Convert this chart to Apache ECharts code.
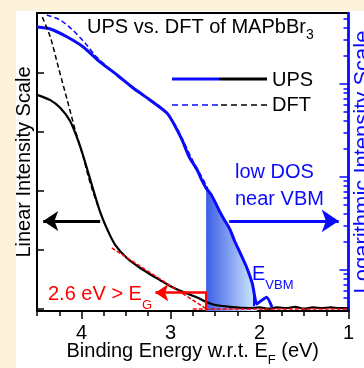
<!DOCTYPE html>
<html>
<head>
<meta charset="utf-8">
<script src="https://cdn.jsdelivr.net/npm/echarts@6/dist/echarts.min.js"></script>
<style>
html,body{margin:0;padding:0;background:#fdf3dc;}
#chart{width:364px;height:368px;}
</style>
</head>
<body>
<div id="chart"></div>
<script>
// values, binding energy in eV
var upsLinE = [4.50,4.35,4.24,4.13,4.04,3.96,3.88,3.79,3.70,3.62,3.49,3.34,3.17,3.01,2.87,2.70,2.61,2.52,2.33,2.11,2.00,1.90,1.80,1.70,1.60,1.50,1.40,1.30,1.20,1.10,1.00];
var upsLinI = [3.63,3.54,3.41,3.19,2.86,2.49,2.08,1.64,1.31,1.08,0.86,0.69,0.53,0.39,0.29,0.19,0.12,0.07,0.03,0.01,0.02,0.00,0.02,0.01,0.03,0.00,0.02,0.01,0.02,0.01,0.01];

var dftLinE = [4.44,4.35,4.26,4.16,4.07,3.98,3.93,3.87,3.80];
var dftLinI = [4.95,4.61,4.10,3.54,3.03,2.58,2.28,1.98,1.68];

var upsLogE = [4.50,4.35,4.16,3.98,3.79,3.60,3.42,3.23,3.04,2.96,2.87,2.79,2.70,2.65,2.60,2.55,2.50,2.45,2.39,2.33,2.28,2.22,2.16,2.12,2.08,2.03,1.99,1.92,1.86];
var upsLogI = [4.10,3.90,3.20,2.50,1.72,1.25,0.905,0.673,0.488,0.37,0.25,0.164,0.119,0.093,0.076,0.066,0.054,0.043,0.034,0.027,0.0205,0.0155,0.0116,0.0093,0.0071,0.0043,0.0046,0.0051,0.0040];

var dftLogE = [4.39,4.24,4.10,3.96,3.85,3.70,3.50,3.30,3.10,2.96,2.87,2.75,2.66,2.58];
var dftLogI = [5.52,4.88,3.81,2.76,2.05,1.50,1.05,0.76,0.55,0.38,0.26,0.15,0.105,0.075];

var gapEdge = 2.6;   // onset, eV
var vbmEdge = 2.03;  // where the log curve hits the floor

var xMajorTicks = [1,2,3,4];
var xMinorTicks = [1.25,1.5,1.75,2.25,2.5,2.75,3.25,3.5,3.75,4.25,4.5];
var linTicks = [0,1,2,3,4];
var logMajorTicks = [0.01,0.1,1];
var logMinorTicks = [0.005,0.006,0.007,0.008,0.009,
  0.02,0.03,0.04,0.05,0.06,0.07,0.08,0.09,
  0.2,0.3,0.4,0.5,0.6,0.7,0.8,0.9,
  2,3,4,5];

function zip(a, b){ return a.map(function(v, i){ return [v, b[i]] }) }

var font = "'Liberation Sans', Arial, sans-serif";
var blue = '#0a0aff';
var red = '#ff0000';

var shade = zip(upsLogE, upsLogI).filter(function(p){ return p[0] <= gapEdge && p[0] >= vbmEdge });

var sub = { fontSize: 13, lineHeight: 13, padding: [22,0,0,0], fontFamily: font };

var chart = echarts.init(document.getElementById('chart'));
chart.setOption({
  animation: false,
  backgroundColor: '#fdf3dc',
  textStyle: { fontFamily: font },
  grid: { left: 37, right: 15.5, top: 13, bottom: 57, show: true, borderColor: '#000', borderWidth: 2, outerBoundsMode: 'none' },
  xAxis: [{
    type: 'value', min: 1, max: 4.5, inverse: true, position: 'bottom',
    axisLine: { onZero: false, lineStyle: { color: '#000', width: 2 } },
    axisTick: { show: true, length: 8, customValues: xMajorTicks, lineStyle: { color: '#000', width: 1.5 } },
    axisLabel: { customValues: xMajorTicks, color: '#000', fontSize: 20, margin: 12, fontFamily: font },
    splitLine: { show: false },
    name: '{a|Binding Energy w.r.t. E}{s|F}{a| (eV)}',
    nameLocation: 'middle', nameGap: 28, nameMoveOverlap: false,
    nameTextStyle: { color: '#000', rich: {
      a: { fontSize: 20, lineHeight: 24, fontFamily: font, color: '#000' },
      s: { fontSize: 13, lineHeight: 13, padding: [18,0,0,0], fontFamily: font, color: '#000' }
    } }
  }, {
    type: 'value', min: 1, max: 4.5, inverse: true, position: 'bottom',
    axisLine: { show: false, onZero: false },
    axisTick: { show: true, length: 5, customValues: xMinorTicks, lineStyle: { color: '#000', width: 1.5 } },
    axisLabel: { show: false },
    splitLine: { show: false }
  }],
  yAxis: [{
    type: 'value', min: -0.04, max: 5.02, position: 'left',
    axisLine: { show: true, onZero: false, lineStyle: { color: '#000', width: 2 } },
    axisTick: { show: true, inside: true, length: 7, customValues: linTicks, lineStyle: { color: '#000', width: 1.5 } },
    axisLabel: { show: false },
    splitLine: { show: false },
    name: 'Linear Intensity Scale', nameLocation: 'middle', nameGap: 3, nameRotate: 90,
    nameTextStyle: { color: '#000', fontSize: 20, fontFamily: font }
  }, {
    type: 'log', logBase: 10, min: 0.003622, max: 5.80, position: 'right',
    axisLine: { show: true, onZero: false, lineStyle: { color: blue, width: 2.5 } },
    axisTick: { show: true, inside: true, length: 9, customValues: logMajorTicks, lineStyle: { color: blue, width: 1.5 } },
    axisLabel: { show: false },
    splitLine: { show: false },
    name: 'Logarithmic Intensity Scale', nameLocation: 'middle', nameGap: 3, nameRotate: 90,
    nameTextStyle: { color: blue, fontSize: 22, fontFamily: font }
  }, {
    type: 'log', logBase: 10, min: 0.003622, max: 5.80, position: 'right',
    axisLine: { show: false, onZero: false },
    axisTick: { show: true, inside: true, length: 5, customValues: logMinorTicks, lineStyle: { color: blue, width: 1.5 } },
    axisLabel: { show: false },
    splitLine: { show: false }
  }],
  series: [{
    name: 'shade', type: 'line', yAxisIndex: 1, data: shade,
    symbol: 'none', lineStyle: { width: 0 },
    areaStyle: { origin: 'start', opacity: 1, color: new echarts.graphic.LinearGradient(0, 0, 1, 0, [
      { offset: 0, color: '#3d5ee6' }, { offset: 1, color: '#d4eeff' }
    ]) }
  }, {
    name: 'DFT log', type: 'line', yAxisIndex: 1, data: zip(dftLogE, dftLogI),
    symbol: 'none', smooth: 0.3, lineStyle: { color: blue, width: 1.5, type: [5, 3] }
  }, {
    name: 'UPS log', type: 'line', yAxisIndex: 1, data: zip(upsLogE, upsLogI),
    symbol: 'none', smooth: 0.2, lineStyle: { color: blue, width: 3 },
    markLine: {
      silent: true, symbol: ['none', 'none'], label: { show: false },
      data: [
        [{ coord: [2.06, 0.0041], lineStyle: { color: blue, width: 2, type: 'solid' } }, { coord: [2.06, 0.0063] }]
      ]
    }
  }, {
    name: 'DFT lin', type: 'line', data: zip(dftLinE, dftLinI),
    symbol: 'none', smooth: 0.3, lineStyle: { color: '#000', width: 1.5, type: [5, 3] }
  }, {
    name: 'UPS lin', type: 'line', data: zip(upsLinE, upsLinI),
    symbol: 'none', smooth: 0.3, lineStyle: { color: '#000', width: 2.2 },
    markLine: {
      silent: true, symbol: ['none', 'none'], label: { show: false },
      data: [
        [{ coord: [3.66, 1.03], lineStyle: { color: red, width: 1.5, type: [4, 2] } }, { coord: [2.6, 0] }],
        [{ coord: [2.75, 0], lineStyle: { color: red, width: 1.5, type: [4, 2] } }, { coord: [1.0, 0] }],
        [{ coord: [2.6, -0.03], lineStyle: { color: red, width: 2, type: 'solid' } }, { coord: [2.6, 0.29] }],
        [{ coord: [2.6, 0.27], lineStyle: { color: red, width: 2.5, type: 'solid' } }, { coord: [3.17, 0.27], symbol: 'arrow', symbolSize: 13 }],
        [{ coord: [3.79, 1.49], lineStyle: { color: '#000', width: 3, type: 'solid' } }, { coord: [4.43, 1.49], symbol: 'arrow', symbolSize: 15 }],
        [{ coord: [2.34, 1.49], lineStyle: { color: blue, width: 3, type: 'solid' } }, { coord: [1.11, 1.49], symbol: 'arrow', symbolSize: 17 }]
      ]
    }
  }],
  graphic: [
    { type: 'rect', z: -10, silent: true, shape: { x: 16, y: 11, width: 348, height: 357 }, style: { fill: '#fff' } },
    { type: 'text', z: 50, x: 87, y: 27, style: { text: '{a|UPS vs. DFT of MAPbBr}{s|3}', verticalAlign: 'middle', rich: {
      a: { fontSize: 20, lineHeight: 24, fontFamily: font, fill: '#000' },
      s: { fontSize: 14, lineHeight: 14, padding: [16,0,0,0], fontFamily: font, fill: '#000' }
    } } },
    { type: 'line', z: 50, shape: { x1: 172, y1: 79, x2: 219, y2: 79 }, style: { stroke: blue, lineWidth: 3 } },
    { type: 'line', z: 50, shape: { x1: 219, y1: 79, x2: 267, y2: 79 }, style: { stroke: '#000', lineWidth: 3 } },
    { type: 'line', z: 50, shape: { x1: 172, y1: 105, x2: 219, y2: 105 }, style: { stroke: blue, lineWidth: 1.5, lineDash: [6, 4] } },
    { type: 'line', z: 50, shape: { x1: 221, y1: 105, x2: 267, y2: 105 }, style: { stroke: '#000', lineWidth: 1.5, lineDash: [6, 4] } },
    { type: 'text', z: 50, x: 272, y: 80, style: { text: 'UPS', fontSize: 20, fontFamily: font, fill: '#000', verticalAlign: 'middle' } },
    { type: 'text', z: 50, x: 272, y: 105, style: { text: 'DFT', fontSize: 20, fontFamily: font, fill: '#000', verticalAlign: 'middle' } },
    { type: 'text', z: 50, x: 235, y: 172, style: { text: 'low DOS', fontSize: 20, fontFamily: font, fill: blue, verticalAlign: 'middle' } },
    { type: 'text', z: 50, x: 235, y: 199, style: { text: 'near VBM', fontSize: 20, fontFamily: font, fill: blue, verticalAlign: 'middle' } },
    { type: 'text', z: 50, x: 252, y: 274, style: { text: '{a|E}{s|VBM}', verticalAlign: 'middle', rich: {
      a: { fontSize: 20, lineHeight: 24, fontFamily: font, fill: blue },
      s: Object.assign({ fill: blue }, sub)
    } } },
    { type: 'text', z: 50, x: 48, y: 294, style: { text: '{a|2.6 eV > E}{s|G}', verticalAlign: 'middle', rich: {
      a: { fontSize: 20, lineHeight: 24, fontFamily: font, fill: red },
      s: Object.assign({ fill: red }, sub)
    } } }
  ]
});
</script>
</body>
</html>
